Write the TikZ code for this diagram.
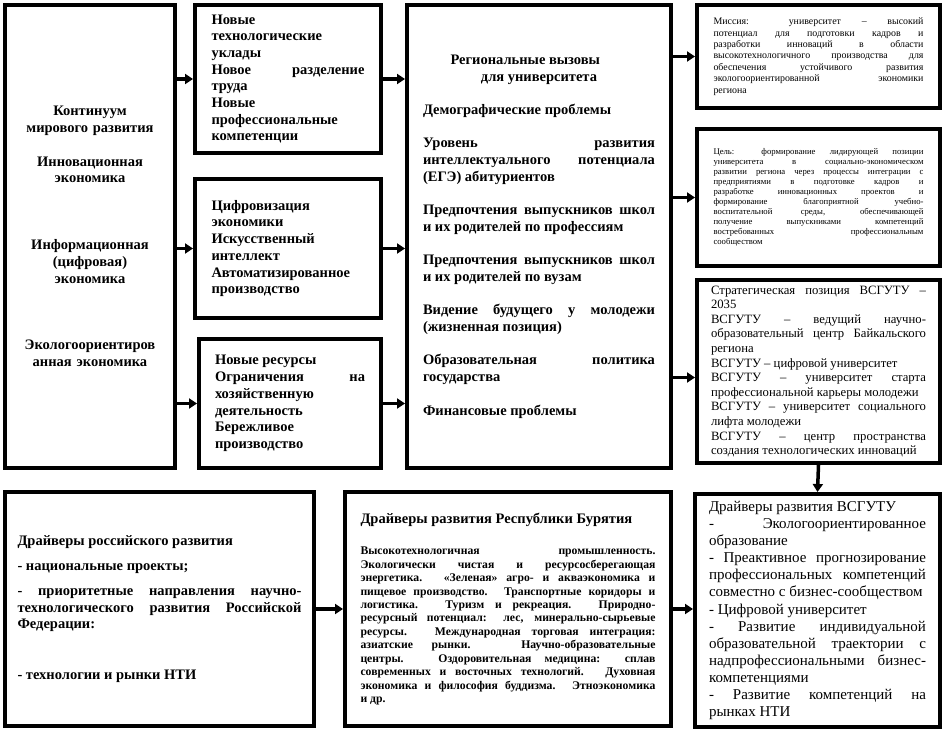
\documentclass[tikz,border=0pt]{standalone}
\usepackage{fontspec}
\setmainfont{Liberation Serif}
\usetikzlibrary{arrows.meta}

\begin{document}
\begin{tikzpicture}[
  x=1pt, y=-1pt,
  box/.style={draw, line width=4pt, inner sep=0pt},
  bigbold/.style={font=\bfseries\fontsize{14.5}{16.7}\selectfont},
  arr/.style={-{Triangle[length=8pt,width=10pt]}, line width=3.5pt}
]
\useasboundingbox (0,0) rectangle (945,731);

\node[box, bigbold, minimum width=170pt, minimum height=463pt, text width=160pt, align=center] (cont) at (90,236.5)
  {Континуум\\ мирового развития\\[17pt] Инновационная\\ экономика\\[50pt]
   Информационная\\ (цифровая)\\ экономика\\[50pt] Экологоориентиров\\ анная экономика};

\node[box, bigbold, minimum width=186pt, minimum height=148pt, text width=153pt, align=justify] (techn) at (288,79)
  {Новые\newline технологические\newline уклады\par
   Новое разделение\linebreak труда\par
   Новые\newline профессиональные\newline компетенции};
\node[box, bigbold, minimum width=186pt, minimum height=139pt, text width=153pt, align=justify] (digit) at (288,248.5)
  {Цифровизация\newline экономики\par
   Искусственный\newline интеллект\par
   Автоматизированное\newline производство};
\node[box, bigbold, minimum width=182pt, minimum height=129pt, text width=150pt, align=justify] (res) at (290,403.5)
  {Новые ресурсы\par
   Ограничения на\linebreak хозяйственную\newline деятельность\par
   Бережливое\newline производство};

\node[box, bigbold, minimum width=264pt, minimum height=463pt, text width=232pt, align=justify] (chal) at (539,236.5)
  {{\centering Региональные вызовы\newline для университета\par}\vspace{16.7pt}
   Демографические проблемы\par\vspace{16.7pt}
   Уровень развития\linebreak интеллектуального потенциала\linebreak (ЕГЭ) абитуриентов\par\vspace{16.7pt}
   Предпочтения выпускников школ\linebreak и их родителей по профессиям\par\vspace{16.7pt}
   Предпочтения выпускников школ\linebreak и их родителей по вузам\par\vspace{16.7pt}
   Видение будущего у молодежи\linebreak (жизненная позиция)\par\vspace{16.7pt}
   Образовательная политика\linebreak государства\par\vspace{16.7pt}
   Финансовые проблемы};

\node[box, minimum width=243pt, minimum height=103pt, text width=210pt, align=justify,
  font=\fontsize{9.9}{11.4}\selectfont] (miss) at (818.5,56.5)
  {Миссия: университет – высокий\linebreak потенциал для подготовки кадров и\linebreak
   разработки инноваций в области\linebreak высокотехнологичного производства для\linebreak
   обеспечения устойчивого развития\linebreak экологоориентированной экономики\linebreak региона};
\node[box, minimum width=243pt, minimum height=137pt, text width=210pt, align=justify,
  font=\fontsize{8.7}{10}\selectfont] (goal) at (818.5,197.5)
  {Цель: формирование лидирующей позиции\linebreak университета в социально-экономическом\linebreak
   развитии региона через процессы интеграции с\linebreak предприятиями в подготовке кадров и\linebreak
   разработке инновационных проектов и\linebreak формирование благоприятной учебно-\linebreak
   воспитательной среды, обеспечивающей\linebreak получение выпускниками компетенций\linebreak
   востребованных профессиональным\linebreak сообществом};
\node[box, minimum width=243pt, minimum height=183pt, text width=215pt, align=justify,
  font=\fontsize{12.7}{14.6}\selectfont] (pos) at (818.5,371.5)
  {Стратегическая позиция ВСГУТУ –\linebreak 2035\par
   ВСГУТУ – ведущий научно-\linebreak образовательный центр Байкальского\linebreak региона\par
   ВСГУТУ – цифровой университет\par
   ВСГУТУ – университет старта\linebreak профессиональной карьеры молодежи\par
   ВСГУТУ – университет социального\linebreak лифта молодежи\par
   ВСГУТУ – центр пространства\linebreak создания технологических инноваций};

\node[box, bigbold, minimum width=309pt, minimum height=234pt, text width=284pt, align=justify] (rus) at (159.5,609)
  {Драйверы российского развития\par\vspace{8.3pt}
   - национальные проекты;\par\vspace{8.3pt}
   - приоритетные направления научно-\linebreak технологического развития Российской\linebreak Федерации:\par\vspace{34pt}
   - технологии и рынки НТИ};
\node[box, minimum width=326pt, minimum height=234pt, text width=295pt, align=justify,
  font=\bfseries\fontsize{11.7}{13.45}\selectfont] (bur) at (508,609)
  {{\fontsize{14.5}{16.7}\selectfont Драйверы развития Республики Бурятия\par}\vspace{18pt}
   Высокотехнологичная промышленность.\linebreak Экологически чистая и ресурсосберегающая\linebreak
   энергетика. «Зеленая» агро- и акваэкономика и\linebreak пищевое производство. Транспортные коридоры и\linebreak
   логистика. Туризм и рекреация. Природно-\linebreak ресурсный потенциал: лес, минерально-сырьевые\linebreak
   ресурсы. Международная торговая интеграция:\linebreak азиатские рынки. Научно-образовательные\linebreak
   центры. Оздоровительная медицина: сплав\linebreak современных и восточных технологий. Духовная\linebreak
   экономика и философия буддизма. Этноэкономика\linebreak и др.};
\node[box, minimum width=245pt, minimum height=233pt, text width=217pt, align=justify,
  font=\fontsize{15}{17.1}\selectfont] (vsg) at (817.5,610.5)
  {Драйверы развития ВСГУТУ\par
   - Экологоориентированное\linebreak образование\par
   - Преактивное прогнозирование\linebreak профессиональных компетенций\linebreak совместно с бизнес-сообществом\par
   - Цифровой университет\par
   - Развитие индивидуальной\linebreak образовательной траектории с\linebreak надпрофессиональными бизнес-\linebreak компетенциями\par
   - Развитие компетенций на\linebreak рынках НТИ};

\foreach \n in {techn,digit,res} {
  \draw[arr] (\n.west -| cont.east) -- (\n.west);
  \draw[arr] (\n.east) -- (\n.east -| chal.west);
}
\foreach \n in {miss,goal}
  \draw[arr] (\n.west -| chal.east) -- (\n.west);
\draw[arr] ([yshift=-6pt]pos.west -| chal.east) -- ([yshift=-6pt]pos.west);
\draw[arr] (pos.south) -- (vsg.north);
\draw[arr] (rus.east) -- (bur.west);
\draw[arr] (bur.east) -- (bur.east -| vsg.west);
\end{tikzpicture}
\end{document}
